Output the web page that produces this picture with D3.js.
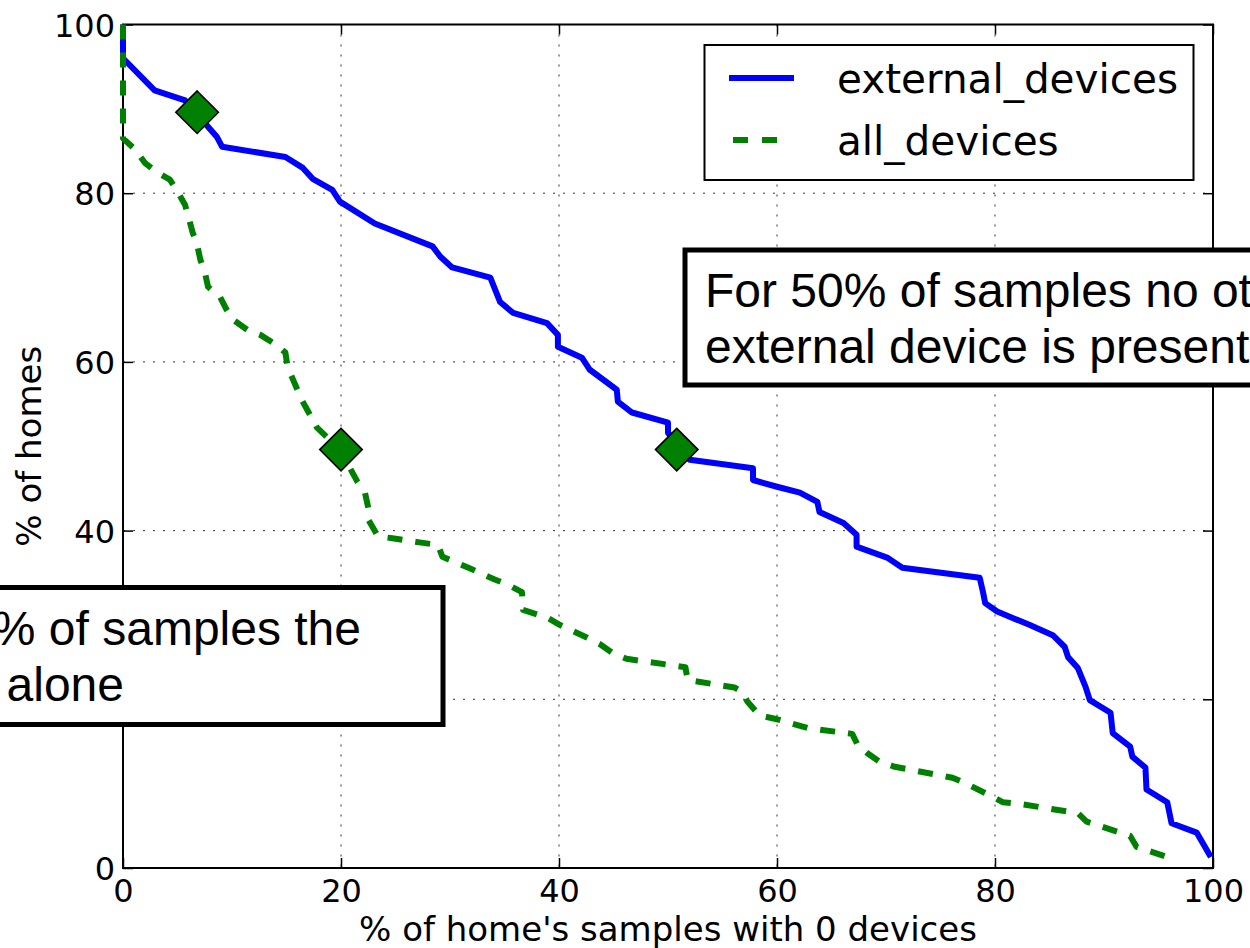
<!DOCTYPE html>
<html>
<head>
<meta charset="utf-8">
<script src="https://cdn.jsdelivr.net/npm/d3@7"></script>
<style>
  html, body { margin: 0; padding: 0; background: #fff; }
  svg { display: block; }
</style>
</head>
<body>
<div id="chart"></div>
<script>
// ---------- data ----------
const seriesNames = ["external_devices", "all_devices"];
const seriesColors = ["#0000ff", "#008000"];

const extX = [0, 0, 2.9, 5.7, 8.6, 9.1, 14.9, 16.5, 17.4, 19.2, 19.9, 23.1, 28.4, 29.1, 30.2, 33.7, 34.6, 35.8, 38.9, 39.9, 39.9, 42.1, 42.8, 45.3, 45.4, 46.7, 50.0, 50.0, 52.0, 57.8, 57.8, 60.0, 62.1, 63.7, 63.9, 66.1, 67.3, 67.3, 70.1, 71.5, 78.6, 78.9, 79.1, 80.2, 83.2, 85.3, 86.4, 86.7, 87.6, 88.3, 88.7, 90.6, 90.8, 92.4, 92.6, 93.8, 93.9, 95.8, 96.2, 98.5, 99.8];
const extY = [100, 96.0, 92.2, 91.0, 86.7, 85.5, 84.3, 83.0, 81.7, 80.4, 79.0, 76.4, 73.7, 72.5, 71.2, 70.0, 67.1, 65.8, 64.6, 63.2, 61.8, 60.5, 59.1, 56.7, 55.3, 54.0, 52.8, 51.6, 48.4, 47.4, 46.0, 45.2, 44.5, 43.4, 42.2, 40.9, 39.5, 38.1, 36.8, 35.6, 34.4, 32.7, 31.4, 30.4, 28.8, 27.6, 26.2, 25.0, 23.7, 21.5, 19.9, 18.4, 16.0, 14.4, 13.2, 11.9, 9.3, 7.8, 5.3, 4.2, 1.3];

const allX = [0, 0, 1.1, 2.0, 3.1, 4.3, 5.0, 5.7, 6.0, 6.4, 6.8, 7.1, 7.5, 7.8, 8.9, 9.5, 10.1, 11.4, 12.6, 14.1, 14.9, 15.1, 15.5, 16.4, 17.8, 19.9, 21.5, 22.2, 22.5, 22.5, 23.4, 24.7, 27.2, 28.9, 29.3, 31.7, 34.1, 35.3, 36.6, 36.7, 38.9, 40.1, 42.6, 43.8, 44.9, 46.2, 50.0, 51.6, 51.8, 56.1, 56.8, 57.3, 58.4, 60.1, 62.8, 66.9, 67.4, 68.3, 69.4, 70.8, 76.1, 77.2, 79.7, 80.7, 82.3, 87.6, 88.4, 89.8, 92.4, 93.0, 95.8];
const allY = [100, 86.5, 85.2, 83.6, 82.5, 81.6, 80.2, 78.6, 77.2, 75.3, 73.9, 72.1, 70.7, 68.9, 67.7, 66.2, 65.0, 63.8, 63.2, 62.0, 61.1, 59.4, 58.2, 55.5, 52.2, 49.6, 45.8, 44.5, 42.7, 41.3, 39.3, 39.1, 38.6, 38.3, 36.9, 35.6, 34.2, 33.6, 32.7, 30.6, 29.7, 28.8, 27.3, 26.5, 25.5, 24.8, 24.1, 23.8, 22.3, 21.4, 20.9, 19.7, 18.1, 17.6, 16.6, 15.9, 14.6, 13.6, 12.6, 12.0, 10.7, 10.1, 8.5, 7.8, 7.6, 6.5, 5.5, 4.9, 3.8, 2.5, 1.3];

const markerX = [6.8, 20.0, 50.8];
const markerY = [89.6, 49.6, 49.6];

const xTicks = [0, 20, 40, 60, 80, 100];
const yTicks = [0, 20, 40, 60, 80, 100];

const xLabel = "% of home's samples with 0 devices";
const yLabel = "% of homes";

const note1Lines = ["For 50% of samples no other", "external device is present"];
const note2Lines = ["For 20% of samples the", "phone is alone"];

// ---------- layout ----------
const W = 1250, H = 948;
const pLeft = 123, pRight = 1213, pTop = 24.5, pBottom = 868;

const svg = d3.select("#chart").append("svg")
  .attr("width", W).attr("height", H)
  .style("font-family", "'DejaVu Sans', sans-serif");

svg.append("rect").attr("width", W).attr("height", H).attr("fill", "#fff");

const x = d3.scaleLinear().domain([0, 100]).range([pLeft, pRight]);
const y = d3.scaleLinear().domain([0, 100]).range([pBottom, pTop]);

// grid
const grid = svg.append("g");
grid.selectAll("line.gx").data(xTicks.filter(d => d > 0 && d < 100)).join("line")
  .attr("class", "gx")
  .attr("x1", d => x(d)).attr("x2", d => x(d))
  .attr("y1", pTop).attr("y2", pBottom)
  .attr("stroke", "#333").attr("stroke-width", 1).attr("stroke-dasharray", "2,8");
grid.selectAll("line.gy").data(yTicks.filter(d => d > 0 && d < 100)).join("line")
  .attr("class", "gy")
  .attr("y1", d => y(d)).attr("y2", d => y(d))
  .attr("x1", pLeft).attr("x2", pRight)
  .attr("stroke", "#333").attr("stroke-width", 1).attr("stroke-dasharray", "2,8");

// axes (ticks inside, on all four sides)
const tickLen = 10;
const axB = svg.append("g").attr("transform", `translate(0,${pBottom})`)
  .call(d3.axisBottom(x).tickValues(xTicks).tickSize(-tickLen).tickPadding(10).tickFormat(d3.format("d")));
const axT = svg.append("g").attr("transform", `translate(0,${pTop})`)
  .call(d3.axisTop(x).tickValues(xTicks).tickSize(-tickLen).tickFormat(""));
const axL = svg.append("g").attr("transform", `translate(${pLeft},0)`)
  .call(d3.axisLeft(y).tickValues(yTicks).tickSize(-tickLen).tickPadding(8).tickFormat(d3.format("d")));
const axR = svg.append("g").attr("transform", `translate(${pRight},0)`)
  .call(d3.axisRight(y).tickValues(yTicks).tickSize(-tickLen).tickFormat(""));
[axB, axT, axL, axR].forEach(a => {
  a.select(".domain").remove();
  a.selectAll(".tick line").attr("stroke", "#000").attr("stroke-width", 1.5);
  a.selectAll("text").attr("fill", "#000").style("font-size", "32px")
    .style("font-family", "'DejaVu Sans', sans-serif");
});
axB.selectAll("text").attr("dy", "0.76em");
axL.selectAll("text").attr("dy", "0.36em");

// frame
svg.append("rect").attr("x", pLeft).attr("y", pTop)
  .attr("width", pRight - pLeft).attr("height", pBottom - pTop)
  .attr("fill", "none").attr("stroke", "#000").attr("stroke-width", 2);

// lines
const lineGen = d3.line().x(d => x(d[0])).y(d => y(d[1]));
const extData = extX.map((v, i) => [v, extY[i]]);
const allData = allX.map((v, i) => [v, allY[i]]);

svg.append("clipPath").attr("id", "clip").append("rect")
  .attr("x", pLeft - 4).attr("y", pTop - 4).attr("width", pRight - pLeft + 8).attr("height", pBottom - pTop + 8);

const plotG = svg.append("g").attr("clip-path", "url(#clip)");
plotG.append("path").datum(extData).attr("d", lineGen)
  .attr("fill", "none").attr("stroke", seriesColors[0]).attr("stroke-width", 6)
  .attr("stroke-linejoin", "round");
plotG.append("path").datum(allData).attr("d", lineGen)
  .attr("fill", "none").attr("stroke", seriesColors[1]).attr("stroke-width", 6)
  .attr("stroke-linejoin", "round").attr("stroke-dasharray", "15,13");

// diamond markers
const diamond = d3.symbol().type(d3.symbolDiamond2).size(2 * 24 * 24);
plotG.selectAll("path.mk").data(markerX.map((v, i) => [v, markerY[i]])).join("path")
  .attr("class", "mk")
  .attr("transform", d => `translate(${x(d[0])},${y(d[1])})`)
  .attr("d", diamond)
  .attr("fill", "#008000").attr("stroke", "#000").attr("stroke-width", 1.6);

// legend
const lg = svg.append("g");
lg.append("rect").attr("x", 704.5).attr("y", 45).attr("width", 489).attr("height", 135)
  .attr("fill", "#fff").attr("stroke", "#000").attr("stroke-width", 2);
const legY = [78, 140];
seriesNames.forEach((name, i) => {
  lg.append("line")
    .attr("x1", i === 1 ? 733 : 729).attr("x2", i === 1 ? 777 : 794)
    .attr("y1", legY[i]).attr("y2", legY[i])
    .attr("stroke", seriesColors[i]).attr("stroke-width", 6)
    .attr("stroke-dasharray", i === 1 ? "15,14" : null);
  lg.append("text").attr("x", 837).attr("y", legY[i] + 15)
    .style("font-size", "40.5px").attr("fill", "#000").text(name);
});

// axis labels
svg.append("text").attr("x", (pLeft + pRight) / 2).attr("y", 941)
  .attr("text-anchor", "middle").style("font-size", "34px").attr("fill", "#000").text(xLabel);
svg.append("text").attr("transform", `translate(41,${(pTop + pBottom) / 2}) rotate(-90)`)
  .attr("text-anchor", "middle").style("font-size", "34px").attr("fill", "#000").text(yLabel);

// annotation boxes
const ann = svg.append("g").style("font-family", "'Liberation Sans', Arial, sans-serif");
ann.append("rect").attr("x", 685).attr("y", 250).attr("width", 700).attr("height", 135)
  .attr("fill", "#fff").attr("stroke", "#000").attr("stroke-width", 5);
note1Lines.forEach((t, i) => {
  ann.append("text").attr("x", 705).attr("y", 307 + i * 56)
    .style("font-size", "48px").attr("fill", "#000").text(t);
});
ann.append("rect").attr("x", -200).attr("y", 587.5).attr("width", 643).attr("height", 137)
  .attr("fill", "#fff").attr("stroke", "#000").attr("stroke-width", 5);
const note2Ends = [361, 124];
note2Lines.forEach((t, i) => {
  ann.append("text").attr("x", note2Ends[i]).attr("y", 645 + i * 56)
    .attr("text-anchor", "end")
    .style("font-size", "48px").attr("fill", "#000").text(t);
});
</script>
</body>
</html>
